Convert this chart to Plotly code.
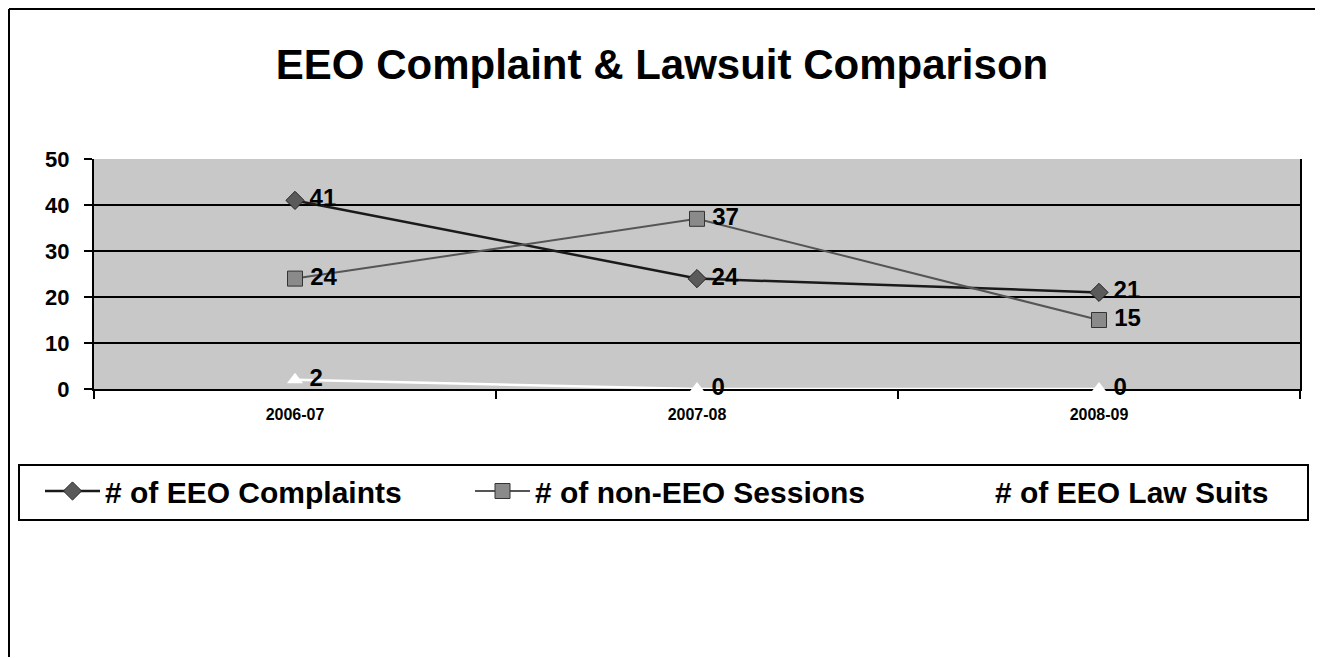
import plotly.graph_objects as go

categories = ["2006-07", "2007-08", "2008-09"]
eeo_complaints = [41, 24, 21]
non_eeo_sessions = [24, 37, 15]
eeo_law_suits = [2, 0, 0]
y_ticks = [0, 10, 20, 30, 40, 50]

FONT = "Liberation Sans, Arial, sans-serif"
OFF = 8  # page body margin
W, H = 1323 - OFF, 658 - OFF
# screen-coordinate plot area
SX0, SX1, SY0, SY1 = 94, 1300, 159, 389
L, T = SX0 - OFF, SY0 - OFF
R = W - (SX1 - OFF)
B = H - (SY1 - OFF)
PW, PH = SX1 - SX0, SY1 - SY0

def px(x):
    return (x - SX0) / PW

def py(y):
    return (SY1 - y) / PH

fig = go.Figure()
lbl_font = dict(family=FONT, size=24, color="black", weight="bold")

def labels(vals):
    return ["\u2009" + str(v) for v in vals]

fig.add_trace(go.Scatter(
    x=categories, y=eeo_complaints, name="# of EEO Complaints", legend="legend",
    mode="lines+markers+text", text=labels(eeo_complaints),
    textposition="middle right", textfont=lbl_font,
    line=dict(color="#1a1a1a", width=2.5),
    marker=dict(symbol="diamond", size=14, color="#5a5a5a", line=dict(color="#222", width=1)),
    cliponaxis=False,
))
fig.add_trace(go.Scatter(
    x=categories, y=non_eeo_sessions, name="# of non-EEO Sessions", legend="legend2",
    mode="lines+markers+text", text=labels(non_eeo_sessions),
    textposition="middle right", textfont=lbl_font,
    line=dict(color="#555555", width=2),
    marker=dict(symbol="square", size=15, color="#8a8a8a", line=dict(color="#333", width=1)),
    cliponaxis=False,
))
fig.add_trace(go.Scatter(
    x=categories, y=eeo_law_suits, name="# of EEO Law Suits", legend="legend3",
    mode="lines+markers+text", text=labels(eeo_law_suits),
    textposition="middle right", textfont=lbl_font,
    line=dict(color="white", width=2.5),
    marker=dict(symbol="triangle-up", size=14, color="white", line=dict(color="white", width=0)),
    cliponaxis=False,
))

ln = dict(color="black", width=2)
shapes = [
    # outer frame (left, right, top)
    dict(type="line", xref="paper", yref="paper", x0=px(9), x1=px(9), y0=py(9), y1=py(657), line=ln),
    dict(type="line", xref="paper", yref="paper", x0=px(1317), x1=px(1317), y0=py(9), y1=py(657), line=ln),
    dict(type="line", xref="paper", yref="paper", x0=px(9), x1=px(1317), y0=py(9), y1=py(9), line=ln),
    # legend box
    dict(type="rect", xref="paper", yref="paper", x0=px(19), x1=px(1308), y0=py(465), y1=py(520),
         line=ln, fillcolor="rgba(0,0,0,0)", layer="below"),
]

leg_common = dict(orientation="h", xanchor="left", y=py(491), yanchor="middle",
                  font=dict(family=FONT, size=30, color="black", weight="bold"),
                  bgcolor="rgba(0,0,0,0)", borderwidth=0, itemwidth=55)

fig.update_layout(
    width=W, height=H,
    margin=dict(l=L, r=R, t=T, b=B, pad=0),
    paper_bgcolor="white", plot_bgcolor="#c8c8c8",
    font=dict(family=FONT, color="black"),
    title=dict(text="EEO Complaint &amp; Lawsuit Comparison", x=px(662), xref="paper",
               xanchor="center", y=1 - (64 - OFF) / H, yanchor="middle", yref="container",
               font=dict(family=FONT, size=42, color="black", weight="bold")),
    showlegend=True,
    legend=dict(x=px(40), **leg_common),
    legend2=dict(x=px(470), **leg_common),
    legend3=dict(x=px(930), **leg_common),
    shapes=shapes,
    xaxis=dict(type="category", range=[-0.5, 2.5], showgrid=False, tickson="boundaries",
               ticks="outside", ticklen=8, tickwidth=2, tickcolor="black",
               showline=True, linecolor="black", linewidth=2, layer="below traces",
               tickfont=dict(family=FONT, size=16, color="black", weight="bold"),
               ticklabelstandoff=10),
    yaxis=dict(range=[0, 50], tickvals=y_ticks, showgrid=True, gridcolor="black", gridwidth=2,
               ticks="outside", ticklen=8, tickwidth=2, tickcolor="black",
               showline=True, linecolor="black", linewidth=2, mirror=True, zeroline=False,
               layer="below traces",
               tickfont=dict(family=FONT, size=22, color="black", weight="bold"),
               ticklabelstandoff=10),
)

fig.write_html("out.html")
